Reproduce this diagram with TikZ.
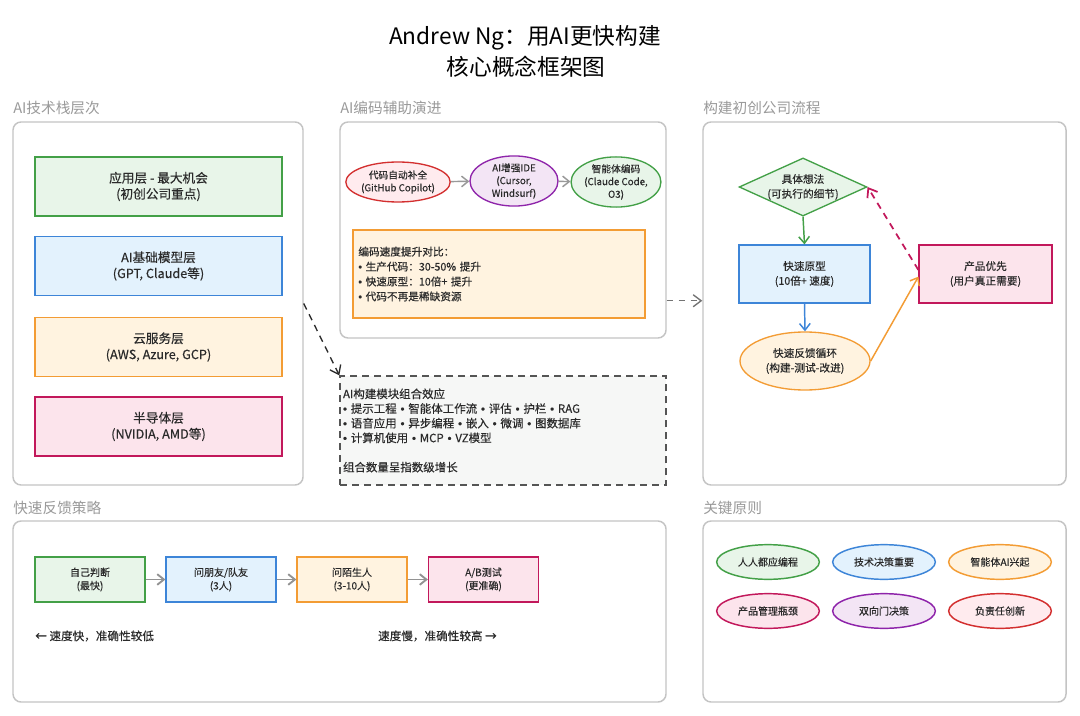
\documentclass[tikz,border=0pt]{standalone}
\usepackage{fontspec}
\setmainfont{Noto Sans CJK SC}[FakeBold=0.35]
\newfontfamily\latinfont{Liberation Sans}[FakeBold=0.35]
\newfontfamily\labelfont{Noto Sans CJK SC}
\newcommand{\bul}{{\latinfont •}}
\usetikzlibrary{arrows.meta,shapes.geometric}
\definecolor{gF}{HTML}{E8F5E9}\definecolor{gD}{HTML}{43A047}
\definecolor{bF}{HTML}{E3F2FD}\definecolor{bD}{HTML}{3D85D8}
\definecolor{oF}{HTML}{FFF3E0}\definecolor{oD}{HTML}{F39C34}
\definecolor{kF}{HTML}{FCE4EC}\definecolor{kD}{HTML}{C2185B}
\definecolor{uF}{HTML}{F3E5F5}\definecolor{uD}{HTML}{8E24AA}
\definecolor{rF}{HTML}{FFEBEE}\definecolor{rD}{HTML}{D32F2F}
\definecolor{panelD}{HTML}{C4C4C4}
\definecolor{labelC}{HTML}{9A9A9A}
\definecolor{txt}{HTML}{2A2A2A}
\definecolor{dboxF}{HTML}{F6F7F6}
\tikzset{
  panel/.style={draw=panelD, line width=1.1pt, rounded corners=6pt, fill=white, inner sep=0pt},
  plabel/.style={text=labelC, font=\labelfont\fontsize{11}{13}\selectfont, anchor=west, inner sep=0pt},
  layer/.style={draw=#1D, fill=#1F, line width=0.9pt, minimum width=185.25pt, minimum height=44.25pt, align=center, text=txt, font=\fontsize{9.5}{12}\selectfont, inner sep=0pt},
  evo/.style={ellipse, draw=#1D, fill=#1F, line width=1pt, inner sep=0pt, align=center, text=txt, font=\fontsize{7.3}{9.5}\selectfont},
  flowbox/.style={draw=#1D, fill=#1F, line width=0.9pt, minimum width=98.25pt, minimum height=43.5pt, align=center, text=txt, font=\fontsize{8}{11}\selectfont, inner sep=0pt},
  fbox/.style={draw=#1D, fill=#1F, line width=0.9pt, minimum width=82.5pt, minimum height=33.75pt, align=center, text=txt, font=\fontsize{7.5}{10}\selectfont, inner sep=0pt},
  prin/.style={ellipse, draw=#1D, fill=#1F, line width=1.1pt, minimum width=77pt, minimum height=26pt, inner sep=0pt, text=txt, font=\fontsize{7.5}{9}\selectfont},
  garrow/.style={draw=#1, line width=1.1pt, -{Straight Barb[length=5pt,width=8pt]}},
  darrow/.style={draw=#1, line width=1pt, dashed, dash pattern=on 5pt off 4pt, -{Straight Barb[length=6pt,width=9pt]}},
}
\begin{document}
\begin{tikzpicture}[x=0.75pt,y=-0.75pt]
\path[use as bounding box, fill=white] (0,0) rectangle (1080,716);
% title
\node[font=\labelfont\fontsize{17}{20}\selectfont, text=black, inner sep=0pt] (t1) at (525,38) {Andrew Ng：用AI更快构建};
\node[font=\labelfont\fontsize{17}{20}\selectfont, text=black, inner sep=0pt] (t2) at (526,67) {核心概念框架图};
% panels
\node[panel, minimum width=217.5pt, minimum height=272.25pt] (p1) at (158,303.5) {};
\node[panel, minimum width=244.5pt, minimum height=162pt] (p2) at (503,230) {};
\node[panel, minimum width=272.25pt, minimum height=272.25pt] (p3) at (884.5,303.5) {};
\node[panel, minimum width=489.75pt, minimum height=135.75pt] (p4) at (339.5,611.5) {};
\node[panel, minimum width=272.25pt, minimum height=135.75pt] (p5) at (884.5,611.5) {};
\node[plabel] (l1) at (13,108) {AI技术栈层次};
\node[plabel] (l2) at (340,108) {AI编码辅助演进};
\node[plabel] (l3) at (703,108) {构建初创公司流程};
\node[plabel] (l4) at (13,508) {快速反馈策略};
\node[plabel] (l5) at (703,508) {关键原则};
% left stack
\node[layer=g] (s1) at (158.5,186.5) {应用层 - 最大机会\\(初创公司重点)};
\node[layer=b] (s2) at (158.5,266) {AI基础模型层\\(GPT, Claude等)};
\node[layer=o] (s3) at (158.5,347) {云服务层\\(AWS, Azure, GCP)};
\node[layer=k] (s4) at (158.5,426.5) {半导体层\\(NVIDIA, AMD等)};
% middle evolution
\node[evo=r, minimum width=66.75pt, minimum height=30pt] (e1) at (398,182) {代码自动补全\\(GitHub Copilot)};
\node[evo=u, minimum width=66pt, minimum height=35.25pt] (e2) at (514,181) {AI增强IDE\\(Cursor,\\Windsurf)};
\node[evo=g, minimum width=66pt, minimum height=33.75pt] (e3) at (616,182) {智能体编码\\(Claude Code,\\O3)};
\draw[garrow=gray!80] (e1) -- (e2);
\draw[garrow=gray!80] (e2) -- (e3);
\node[draw=oD, fill=oF, line width=1pt, minimum width=219pt, minimum height=66pt, text width=211pt, inner xsep=4pt, inner ysep=0pt, align=left, text=txt, font=\fontsize{8}{11.2}\selectfont] (cmp) at (499,274) {编码速度提升对比：\\\bul\ 生产代码：30-50\% 提升\\\bul\ 快速原型：10倍+ 提升\\\bul\ 代码不再是稀缺资源};
\node[draw=txt!80, fill=dboxF, line width=1pt, dashed, dash pattern=on 5pt off 4pt, minimum width=244.5pt, minimum height=81.75pt, text width=240pt, inner xsep=2.25pt, inner ysep=0pt, align=left, text=txt, font=\fontsize{8.6}{11}\selectfont] (dbox) at (503,430.5) {AI构建模块组合效应\\\bul\ 提示工程 \bul\ 智能体工作流 \bul\ 评估 \bul\ 护栏 \bul\ RAG\\\bul\ 语音应用 \bul\ 异步编程 \bul\ 嵌入 \bul\ 微调 \bul\ 图数据库\\\bul\ 计算机使用 \bul\ MCP \bul\ VZ模型\\[11pt]组合数量呈指数级增长};
\draw[darrow=txt] (p1.east) -- (dbox.north west);
\draw[darrow=gray!90!black] ([yshift=28.5pt]p2.south east) -- ([yshift=28.5pt]p2.south east -| p3.west);
% right flow
\node[diamond, draw=gD, fill=gF, line width=1pt, aspect=2.2, inner sep=0pt, minimum width=95.25pt, minimum height=42.75pt, align=center, text=txt, font=\fontsize{8}{11}\selectfont] (d1) at (803,187) {具体想法\\(可执行的细节)};
\node[flowbox=b] (b1) at (804.5,274) {快速原型\\(10倍+ 速度)};
\node[ellipse, draw=oD, fill=oF, line width=1pt, inner sep=0pt, minimum width=97.5pt, minimum height=43.5pt, align=center, text=txt, font=\fontsize{8}{11}\selectfont] (o1) at (805,361) {快速反馈循环\\(构建-测试-改进)};
\node[flowbox=k, minimum width=99.75pt] (k1) at (985.5,274) {产品优先\\(用户真正需要)};
\draw[garrow=gD] (d1.south) -- (b1.north);
\draw[garrow=bD] (b1.south) -- (o1.north);
\draw[garrow=oD] (o1.east) -- ([yshift=-2pt]k1.west);
\draw[darrow=kD, line width=1.3pt] ([yshift=3pt]k1.west) -- (d1.east);
% bottom feedback
\node[fbox=g] (q1) at (90,579.5) {自己判断\\(最快)};
\node[fbox=b] (q2) at (221,579.5) {问朋友/队友\\(3人)};
\node[fbox=o] (q3) at (352,579.5) {问陌生人\\(3-10人)};
\node[fbox=k] (q4) at (483.5,579.5) {A/B测试\\(更准确)};
\draw[garrow=gray!85, line width=1.4pt] (q1) -- (q2);
\draw[garrow=gray!85, line width=1.4pt] (q2) -- (q3);
\draw[garrow=gray!85, line width=1.4pt] (q3) -- (q4);
\node[anchor=west, inner sep=0pt, text=txt, font=\fontsize{8.7}{10}\selectfont] (sl) at (35,636) {← 速度快，准确性较低};
\node[anchor=east, inner sep=0pt, text=txt, font=\fontsize{8.7}{10}\selectfont] (sr) at (497,636) {速度慢，准确性较高 →};
% principles
\node[prin=g] (r1) at (768,562) {人人都应编程};
\node[prin=b] (r2) at (884,562) {技术决策重要};
\node[prin=o] (r3) at (1000,562) {智能体AI兴起};
\node[prin=k] (r4) at (768,611) {产品管理瓶颈};
\node[prin=u] (r5) at (884,611) {双向门决策};
\node[prin=r] (r6) at (1000,611) {负责任创新};
\end{tikzpicture}
\end{document}
